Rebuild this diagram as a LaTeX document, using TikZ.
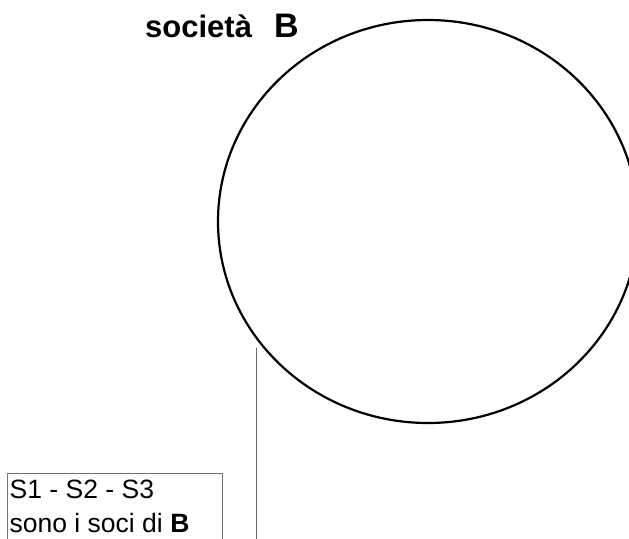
\documentclass[tikz,border=0pt]{standalone}
\usepackage{fontspec}
\setmainfont{Liberation Sans}
\usetikzlibrary{shapes.geometric}
\begin{document}
\begin{tikzpicture}[x=1pt,y=-1pt,
  title/.style={inner sep=0pt,anchor=base west,font=\bfseries\fontsize{31}{36}\selectfont},
  notetext/.style={inner sep=0pt,anchor=base west,font=\fontsize{26.5}{30}\selectfont},
  notebox/.style={draw=black!55,line width=1.2pt,inner sep=0pt,anchor=north west,minimum width=215,minimum height=90},
  circ/.style={draw=black,line width=2.2pt,ellipse,inner sep=0pt,minimum width=420,minimum height=403},
  link/.style={draw=black!60,line width=1.3pt}]
\useasboundingbox (0,0) rectangle (629,538);
\clip (0,0) rectangle (629,538);
\node[title] (t1) at (145,37) {società};
\node[title,font=\bfseries\fontsize{34}{40}\selectfont] (t2) at (274,37) {B};
\node[circ] (ell) at (428,221.5) {};
\node[notebox] (box) at (7,473) {};
\node[notetext] (s1) at (9.5,498) {S1 - S2 - S3};
\node[notetext] (s2) at (9.5,532) {sono i soci di \textbf{B}};
\coordinate (ltop) at (256.5,348);
\coordinate (lbot) at (256.5,545);
\draw[link] (ltop) -- (lbot);
\end{tikzpicture}
\end{document}
